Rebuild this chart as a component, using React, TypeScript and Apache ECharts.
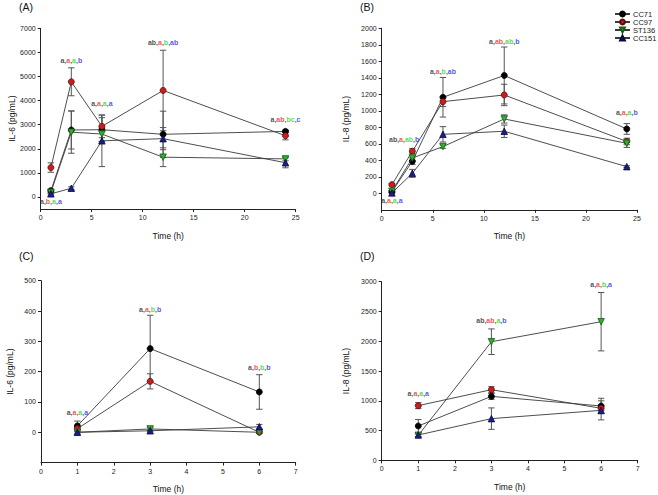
import React, { useEffect, useRef } from "react";
import * as echarts from "echarts";

// ---------- data ----------
const seriesNames = ["CC71", "CC97", "ST136", "CC151"];
const timesLong = [1, 3, 6, 12, 24];
const timesShort = [1, 3, 6];

// Panel A: IL-6 (pg/mL), times 1,3,6,12,24 h
const aCC71 = [260, 2780, 2790, 2600, 2720];
const aCC71Err = [60, 790, 500, 960, 60];
const aCC97 = [1220, 4780, 2930, 4420, 2540];
const aCC97Err = [195, 580, 470, 1670, 170];
const aST136 = [190, 2690, 2610, 1650, 1580];
const aST136Err = [50, 875, 300, 390, 80];
const aCC151 = [130, 360, 2330, 2420, 1420];
const aCC151Err = [40, 60, 1070, 460, 210];
const aAnnX = [1, 3, 6, 12, 24];
const aAnnY = [-200, 5680, 3890, 6430, 3220];
const aAnnText = ["a,b,a,a", "a,a,a,b", "a,a,a,a", "ab,a,b,ab", "a,ab,bc,c"];
const aYTicks = [0, 1000, 2000, 3000, 4000, 5000, 6000, 7000];

// Panel B: IL-8 (pg/mL), times 1,3,6,12,24 h
const bCC71 = [20, 388, 1164, 1428, 780];
const bCC71Err = [10, 40, 240, 345, 65];
const bCC97 = [105, 510, 1111, 1192, 628];
const bCC97Err = [15, 30, 60, 130, 40];
const bST136 = [25, 428, 566, 901, 606];
const bST136Err = [10, 30, 20, 50, 50];
const bCC151 = [5, 242, 715, 752, 323];
const bCC151Err = [5, 48, 93, 75, 10];
const bAnnX = [1, 2.2, 6, 12, 24];
const bAnnY = [-90, 654, 1482, 1846, 982];
const bAnnText = ["a,a,a,a", "ab,a,ab,b", "a,a,b,ab", "a,ab,ab,b", "a,a,a,b"];
const bYTicks = [0, 200, 400, 600, 800, 1000, 1200, 1400, 1600, 1800, 2000];

// Panel C: IL-6 (pg/mL), times 1,3,6 h
const cCC71 = [21, 276, 133];
const cCC71Err = [16, 110, 57];
const cCC97 = [12, 168, 0];
const cCC97Err = [5, 25, 3];
const cST136 = [0, 11, 0];
const cST136Err = [3, 5, 3];
const cCC151 = [0, 5, 18];
const cCC151Err = [8, 3, 8];
const cAnnX = [1, 3, 6];
const cAnnY = [66, 406, 215];
const cAnnText = ["a,a,a,a", "a,a,b,b", "a,b,b,b"];
const cYTicks = [0, 100, 200, 300, 400, 500];

// Panel D: IL-8 (pg/mL), times 1,3,6 h
const dCC71 = [576, 1074, 912];
const dCC71Err = [110, 50, 130];
const dCC97 = [918, 1186, 873];
const dCC97Err = [50, 50, 40];
const dST136 = [420, 1992, 2328];
const dST136Err = [20, 215, 490];
const dCC151 = [425, 700, 839];
const dCC151Err = [30, 180, 160];
const dAnnX = [1, 3, 6];
const dAnnY = [1114, 2345, 2956];
const dAnnText = ["a,a,a,a", "ab,ab,a,b", "a,a,b,a"];
const dYTicks = [0, 500, 1000, 1500, 2000, 2500, 3000];

// ---------- styles ----------
const FONT = "Liberation Sans, Arial, sans-serif";
const fills = ["#000000", "#c81e1e", "#2fae2f", "#1c1c8a"];
const borders = ["#000000", "#5a0a0a", "#175c17", "#0a0a40"];
const symbols = ["circle", "circle", "path://M0,0 L10,0 L5,9 Z", "triangle"];
const annColors = ["#222222", "#e8281f", "#2ad12a", "#2a2ae0"];
const annKeys = ["blk", "red", "grn", "blu"];

const panels = [
  {
    title: "(A)", titlePos: [19, 1], times: timesLong,
    vals: [aCC71, aCC97, aST136, aCC151], errs: [aCC71Err, aCC97Err, aST136Err, aCC151Err],
    annX: aAnnX, annY: aAnnY, annText: aAnnText, yTicks: aYTicks,
    yMin: -500, yMax: 7000, xMax: 25, xInterval: 5, yName: "IL-6 (pg/mL)",
    grid: { left: 40.7, top: 28.3, width: 255, height: 180.7 }, yNameGap: 23,
  },
  {
    title: "(B)", titlePos: [360, 1], times: timesLong,
    vals: [bCC71, bCC97, bST136, bCC151], errs: [bCC71Err, bCC97Err, bST136Err, bCC151Err],
    annX: bAnnX, annY: bAnnY, annText: bAnnText, yTicks: bYTicks,
    yMin: -200, yMax: 2000, xMax: 25, xInterval: 5, yName: "IL-8 (pg/mL)",
    grid: { left: 381.7, top: 28.3, width: 255.3, height: 181.5 }, yNameGap: 31,
  },
  {
    title: "(C)", titlePos: [19, 250], times: timesShort,
    vals: [cCC71, cCC97, cST136, cCC151], errs: [cCC71Err, cCC97Err, cST136Err, cCC151Err],
    annX: cAnnX, annY: cAnnY, annText: cAnnText, yTicks: cYTicks,
    yMin: -100, yMax: 500, xMax: 7, xInterval: 1, yName: "IL-6 (pg/mL)",
    grid: { left: 41, top: 280.7, width: 254.7, height: 181.9 }, yNameGap: 27,
  },
  {
    title: "(D)", titlePos: [360, 250], times: timesShort,
    vals: [dCC71, dCC97, dST136, dCC151], errs: [dCC71Err, dCC97Err, dST136Err, dCC151Err],
    annX: dAnnX, annY: dAnnY, annText: dAnnText, yTicks: dYTicks,
    yMin: 0, yMax: 3000, xMax: 7, xInterval: 1, yName: "IL-8 (pg/mL)",
    grid: { left: 381.7, top: 281.7, width: 256, height: 178.6 }, yNameGap: 31,
  },
];

function richLabel(s: string) {
  return s
    .split(",")
    .map((p, i) => `{${annKeys[i]}|${p}}`)
    .join("{cm|,}");
}

function buildOption() {
  const grid: any[] = [];
  const xAxis: any[] = [];
  const yAxis: any[] = [];
  const series: any[] = [];
  const graphic: any[] = [];

  const rich: any = { cm: { color: "#333333", fontSize: 7, fontFamily: FONT, fontWeight: "bold" } };
  annColors.forEach((c, i) => {
    rich[annKeys[i]] = { color: c, fontSize: 7, fontFamily: FONT, fontWeight: "bold" };
  });

  panels.forEach((p, pi) => {
    grid.push({ ...p.grid, containLabel: false });
    xAxis.push({
      type: "value", gridIndex: pi, min: 0, max: p.xMax, interval: p.xInterval,
      name: "Time (h)", nameLocation: "middle", nameGap: 22,
      nameTextStyle: { fontSize: 8.5, color: "#111", fontFamily: FONT },
      axisLine: { show: true, onZero: false, lineStyle: { color: "#222", width: 1 } },
      axisTick: { show: true, length: 3, lineStyle: { color: "#222" } },
      axisLabel: { fontSize: 7, color: "#222", margin: 5, fontFamily: FONT, formatter: (v: number) => String(v) },
      splitLine: { show: false },
    });
    yAxis.push({
      type: "value", gridIndex: pi, min: p.yMin, max: p.yMax,
      name: p.yName, nameLocation: "middle", nameGap: p.yNameGap, nameRotate: 90,
      nameTextStyle: { fontSize: 8.5, color: "#111", fontFamily: FONT },
      axisLine: { show: true, onZero: false, lineStyle: { color: "#222", width: 1 } },
      axisTick: { show: true, length: 3, lineStyle: { color: "#222" }, customValues: p.yTicks },
      axisLabel: {
        fontSize: 7, color: "#222", margin: 5, fontFamily: FONT, customValues: p.yTicks,
        formatter: (v: number) => String(v),
      },
      splitLine: { show: false },
    });
    graphic.push({
      type: "text", left: p.titlePos[0], top: p.titlePos[1],
      style: { text: p.title, fontSize: 10.5, fill: "#111", fontFamily: FONT },
    });

    seriesNames.forEach((name, si) => {
      const vals = p.vals[si];
      const errs = p.errs[si];
      series.push({
        type: "custom", name: "err", xAxisIndex: pi, yAxisIndex: pi, z: 1, silent: true,
        clip: false,
        data: p.times.map((t, k) => [t, vals[k] - errs[k], vals[k] + errs[k]]),
        encode: { x: 0, y: [1, 2] },
        renderItem: (params: any, api: any) => {
          const x = api.value(0);
          const top = api.coord([x, api.value(2)]);
          const bot = api.coord([x, api.value(1)]);
          const w = 3.2;
          const st = { stroke: "#555", lineWidth: 1 };
          return {
            type: "group",
            children: [
              { type: "line", shape: { x1: top[0], y1: top[1], x2: bot[0], y2: bot[1] }, style: st },
              { type: "line", shape: { x1: top[0] - w, y1: top[1], x2: top[0] + w, y2: top[1] }, style: st },
              { type: "line", shape: { x1: bot[0] - w, y1: bot[1], x2: bot[0] + w, y2: bot[1] }, style: st },
            ],
          };
        },
      });
      series.push({
        type: "line", name, xAxisIndex: pi, yAxisIndex: pi, z: 3 + si,
        data: p.times.map((t, k) => [t, vals[k]]),
        symbol: symbols[si], symbolSize: si >= 2 ? 6.5 : 6, showSymbol: true,
        lineStyle: { color: "#3a3a3a", width: 0.9 },
        itemStyle: { color: fills[si], borderColor: borders[si], borderWidth: 0.8 },
        emphasis: { disabled: true }, silent: true,
      });
    });

    series.push({
      type: "scatter", name: "ann", xAxisIndex: pi, yAxisIndex: pi, z: 10, silent: true,
      symbolSize: 1, itemStyle: { color: "rgba(0,0,0,0)" },
      data: p.annX.map((x, k) => [x, p.annY[k], p.annText[k]]),
      label: {
        show: true, position: "inside", color: "#222",
        formatter: (prm: any) => richLabel(prm.data[2]),
        rich,
      },
    });
  });

  return {
    animation: false,
    backgroundColor: "#ffffff",
    textStyle: { fontFamily: FONT },
    grid, xAxis, yAxis, series, graphic,
    legend: {
      data: seriesNames, orient: "vertical", left: 614, top: 10, padding: 0,
      itemGap: 0, itemWidth: 15, itemHeight: 6,
      textStyle: { fontSize: 7.5, color: "#222", fontFamily: FONT, lineHeight: 8, padding: [0, 0, 0, -2] },
      selectedMode: false,
    },
  };
}

export default function App() {
  const ref = useRef<HTMLDivElement>(null);
  useEffect(() => {
    if (!ref.current) return;
    const chart = echarts.init(ref.current, undefined, { renderer: "svg" });
    chart.setOption(buildOption() as any);
    return () => chart.dispose();
  }, []);
  return (
    <div
      ref={ref}
      style={{ position: "fixed", left: 0, top: 0, width: 658, height: 495, background: "#fff" }}
    />
  );
}
